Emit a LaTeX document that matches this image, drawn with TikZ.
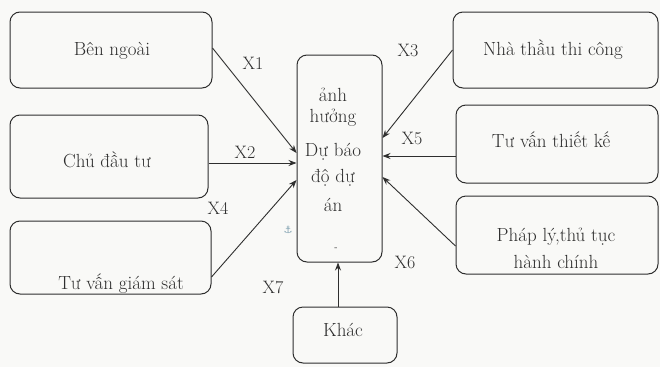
\documentclass[tikz,border=0pt]{standalone}
\usepackage{fontspec}
\newfontfamily\symfont{DejaVu Sans}
\usetikzlibrary{arrows.meta,calc}
\definecolor{ink}{HTML}{2E2E2E}
\definecolor{paper}{HTML}{F9F9F7}
\definecolor{anchorblue}{HTML}{7FA0B0}
\tikzset{
  box/.style={draw=ink, line width=1pt, rounded corners=10pt, inner sep=0pt},
  txt/.style={text=ink, font=\rmfamily\fontsize{19}{21}\selectfont, inner sep=0pt},
  lbl/.style={text=ink, font=\rmfamily\fontsize{18}{20}\selectfont, inner sep=0pt},
  link/.style={draw=ink, line width=0.9pt, -{Stealth[length=8pt,width=6pt]}}
}
\begin{document}
\begin{tikzpicture}[x=1pt,y=-1pt]
\fill[paper] (0,0) rectangle (660,367);
\useasboundingbox (0,0) rectangle (660,367);

% central box
\node[box, minimum width=85pt, minimum height=207pt] (c) at (339.5,158.5) {};
\node[txt] (c1) at (333,95) {ảnh};
\node[txt] (c2) at (333,118) {hưởng};
\node[txt] (c3) at (333,152) {Dự báo};
\node[txt] (c4) at (333,178) {độ dự};
\node[txt] (c5) at (333,205) {án};
\node[txt, font=\rmfamily\fontsize{10}{12}\selectfont] (c6) at (336,249) {-};
\node[text=anchorblue, font=\symfont\fontsize{10}{12}\selectfont, inner sep=0pt] (anc) at (288,230) {⚓};

% left boxes
\node[box, minimum width=202pt, minimum height=76pt] (bn) at (111,50) {};
\node[txt] at (112,51) {Bên ngoài};
\node[box, minimum width=198pt, minimum height=83pt] (cdt) at (109,156.5) {};
\node[txt] at (107,160) {Chủ đầu tư};
\node[box, minimum width=201pt, minimum height=73pt] (tvgs) at (110.5,257.5) {};
\node[txt] at (121,284) {Tư vấn giám sát};

% right boxes
\node[box, minimum width=205pt, minimum height=76pt] (nt) at (555.5,50) {};
\node[txt] at (553,50) {Nhà thầu thi công};
\node[box, minimum width=202pt, minimum height=78pt] (tk) at (557,144) {};
\node[txt] at (551,140) {Tư vấn thiết kế};
\node[box, minimum width=202pt, minimum height=78pt] (pl) at (557,235) {};
\node[txt] at (556,237) {Pháp lý,thủ tục};
\node[txt] at (556,262) {hành chính};

% bottom box
\node[box, minimum width=104pt, minimum height=56pt] (kh) at (345,335) {};
\node[txt] at (343,330) {Khác};

% connectors
\draw[link] ([yshift=2pt]bn.east) -- ([yshift=5.5pt]c.west);
\draw[link] ([yshift=-6.5pt]cdt.east) -- ([yshift=-4.5pt]c.west);
\draw[link] ([yshift=-19.5pt]tvgs.east) -- ([yshift=-21.5pt]c.west);
\draw[link] (nt.west) -- ([yshift=20.5pt]c.east);
\draw[link] ([yshift=-12pt]tk.west) -- ([yshift=2.5pt]c.east);
\draw[link] ([yshift=-11pt]pl.west) -- ([yshift=-18.5pt]c.east);
\draw[link] ([xshift=-7pt]kh.north) -- ([xshift=-1.5pt]c.south);

% connector labels
\node[lbl] (x1) at (253,63) {X1};
\node[lbl] (x2) at (245,152) {X2};
\node[lbl] (x4) at (218,208) {X4};
\node[lbl] (x7) at (273,287) {X7};
\node[lbl] (x3) at (408,50) {X3};
\node[lbl] (x5) at (412,138) {X5};
\node[lbl] (x6) at (405,262) {X6};
\end{tikzpicture}
\end{document}
